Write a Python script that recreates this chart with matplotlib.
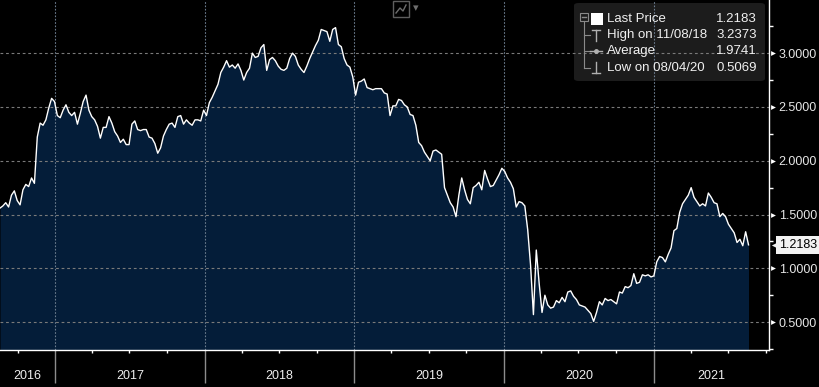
import numpy as np
import pandas as pd
import matplotlib
matplotlib.use('Agg')
import matplotlib.pyplot as plt
import matplotlib.dates as mdates
import matplotlib.transforms as mtransforms
from matplotlib.patches import FancyBboxPatch, Rectangle
from matplotlib.lines import Line2D
from matplotlib.ticker import MultipleLocator

plt.rcParams['font.family'] = ['Liberation Sans', 'DejaVu Sans']

# weekly closes
start_date = '2016-08-19'
prices = [
    1.56, 1.58, 1.61, 1.57, 1.68, 1.72, 1.63, 1.59, 1.73, 1.78, 1.76, 1.84, 1.79, 2.22, 2.35, 2.33,
    2.38, 2.49, 2.58, 2.55, 2.42, 2.40, 2.47, 2.52, 2.45, 2.42, 2.45, 2.34, 2.44, 2.55, 2.61, 2.47,
    2.41, 2.38, 2.32, 2.21, 2.31, 2.31, 2.41, 2.35, 2.27, 2.23, 2.17, 2.20, 2.15, 2.15, 2.34, 2.37,
    2.29, 2.28, 2.29, 2.29, 2.22, 2.21, 2.16, 2.07, 2.12, 2.23, 2.29, 2.34, 2.35, 2.31, 2.41, 2.42,
    2.34, 2.38, 2.35, 2.33, 2.38, 2.38, 2.37, 2.47, 2.42, 2.54, 2.59, 2.65, 2.71, 2.82, 2.87, 2.93,
    2.87, 2.89, 2.86, 2.90, 2.84, 2.75, 2.82, 2.86, 3.00, 2.96, 2.97, 3.05, 3.08, 2.84, 2.94, 2.96,
    2.93, 2.88, 2.85, 2.84, 2.86, 2.95, 3.00, 2.97, 2.89, 2.85, 2.82, 2.88, 2.95, 3.01, 3.07, 3.12,
    3.22, 3.21, 3.20, 3.11, 3.22, 3.2373, 3.08, 3.06, 2.95, 2.89, 2.87, 2.78, 2.61, 2.73, 2.74, 2.76,
    2.68, 2.67, 2.66, 2.67, 2.67, 2.67, 2.63, 2.62, 2.42, 2.51, 2.51, 2.57, 2.56, 2.52, 2.50, 2.43,
    2.42, 2.33, 2.17, 2.14, 2.08, 2.04, 2.00, 2.09, 2.10, 2.08, 2.06, 1.75, 1.68, 1.61, 1.57, 1.48,
    1.68, 1.84, 1.73, 1.64, 1.60, 1.75, 1.77, 1.80, 1.73, 1.91, 1.83, 1.76, 1.77, 1.82, 1.87, 1.93,
    1.90, 1.84, 1.80, 1.74, 1.57, 1.62, 1.61, 1.58, 1.36, 1.03, 0.57, 1.17, 0.86, 0.59, 0.75, 0.66,
    0.63, 0.64, 0.70, 0.68, 0.73, 0.69, 0.78, 0.79, 0.74, 0.71, 0.66, 0.65, 0.64, 0.61, 0.58, 0.5069,
    0.59, 0.69, 0.66, 0.72, 0.70, 0.71, 0.69, 0.67, 0.78, 0.77, 0.83, 0.82, 0.84, 0.95, 0.86, 0.87,
    0.94, 0.93, 0.94, 0.92, 0.93, 1.06, 1.11, 1.10, 1.06, 1.13, 1.19, 1.35, 1.37, 1.52, 1.60, 1.64,
    1.68, 1.75, 1.66, 1.62, 1.58, 1.60, 1.58, 1.70, 1.66, 1.61, 1.60, 1.48, 1.51, 1.48, 1.41, 1.37,
    1.33, 1.24, 1.27, 1.21, 1.34, 1.2183,
]
dates = pd.date_range(start_date, periods=len(prices), freq='7D')

last_price = 1.2183
high_label, high_value = 'High on 11/08/18', 3.2373
avg_label, avg_value = 'Average', 1.9741
low_label, low_value = 'Low on 08/04/20', 0.5069
ytick_values = [0.5, 1.0, 1.5, 2.0, 2.5, 3.0]
year_labels = ['2016', '2017', '2018', '2019', '2020', '2021']

W, H = 820, 387
fig = plt.figure(figsize=(W / 100, H / 100), dpi=100, facecolor='black')
ax = fig.add_axes([0, 1 - 350 / H, 769 / W, 350 / H])
ax.set_facecolor('black')

def fx(px):
    return px / W

def fy(py):
    return 1 - py / H

x0, x1 = pd.Timestamp('2016-08-19'), pd.Timestamp('2021-10-09')
ax.set_xlim(x0, x1)
ax.set_ylim(0.241, 3.494)

# area + line
ax.fill_between(dates, prices, 0, color='#041d39', lw=0, zorder=1)
ax.plot(dates, prices, color='white', lw=1.0, zorder=3)

# grid
for v in ytick_values:
    ax.axhline(v, color='#7a7a7a', lw=0.8, ls=(0, (2.5, 2.5)), zorder=2)
for y in year_labels[1:]:
    ax.axvline(pd.Timestamp(f'{y}-01-01'), color='#6c7c8e', lw=0.8, ls=(0, (1.5, 1.5)), zorder=2)

for s in ['left', 'top']:
    ax.spines[s].set_visible(False)
for s in ['right', 'bottom']:
    ax.spines[s].set_color('white')
    ax.spines[s].set_linewidth(1)

# x axis: year separators + quarter ticks
ax.xaxis.set_major_locator(mdates.YearLocator())
ax.xaxis.set_minor_locator(mdates.MonthLocator(bymonth=[1, 4, 7, 10]))
ax.tick_params(axis='x', which='major', length=24, width=1, color='#8c8c8c', labelbottom=False)
ax.tick_params(axis='x', which='minor', length=2.5, width=1, color='white')

tx = mtransforms.blended_transform_factory(ax.transData, ax.transAxes)
xl0, xl1 = mdates.date2num(x0), mdates.date2num(x1)
for lab in year_labels:
    a = max(mdates.date2num(pd.Timestamp(f'{lab}-01-01')), xl0)
    b = min(mdates.date2num(pd.Timestamp(f'{int(lab) + 1}-01-01')), xl1)
    ax.text((a + b) / 2, -26 / 350, lab, transform=tx, ha='center', va='center',
            fontsize=9, color='#eeeeee')

# y axis on the right
ax.yaxis.tick_right()
ax.set_yticks(ytick_values)
ax.set_yticklabels([f'{v:.4f}' for v in ytick_values])
ax.yaxis.set_minor_locator(MultipleLocator(0.25))
ax.tick_params(axis='y', which='major', length=0, pad=7, labelsize=9, labelcolor='#e6e6e6')
ax.tick_params(axis='y', which='minor', length=3, width=1, color='white')

ty = mtransforms.blended_transform_factory(ax.transAxes, ax.transData)
ax.scatter(np.full(len(ytick_values), 773 / 769), ytick_values, marker='>', s=12,
           color='white', transform=ty, clip_on=False, zorder=5, linewidths=0)

# last price tag
ax.scatter([776 / 769], [last_price], marker='<', s=45, color='#f2f2f2', transform=ty,
           clip_on=False, zorder=6, linewidths=0)
ax.text(779 / 769, last_price, f'{last_price:.4f}', transform=ty, ha='left', va='center',
        fontsize=9, color='black', zorder=7, clip_on=False,
        bbox=dict(boxstyle='square,pad=0.25', fc='#f2f2f2', ec='none'))

# legend box
ax.add_patch(FancyBboxPatch((fx(574), fy(81)), fx(765) - fx(574), fy(3) - fy(81),
                            boxstyle='round,pad=0,rounding_size=0.006', transform=fig.transFigure,
                            fc='#1c1c1c', ec='none', zorder=1.5, clip_on=False))
rows = [('Last Price', last_price, 19), (high_label, high_value, 35),
        (avg_label, avg_value, 51), (low_label, low_value, 68)]
for lab, val, py in rows:
    fig.text(fx(607), fy(py), lab, ha='left', va='center', fontsize=9.5, color='#f0f0f0', zorder=10)
    fig.text(fx(757), fy(py), f'{val:.4f}', ha='right', va='center', fontsize=9.5, color='#f0f0f0', zorder=10)

gray = '#8a8a8a'
def seg(xs, ys, c=gray, lw=1):
    fig.add_artist(Line2D([fx(v) for v in xs], [fy(v) for v in ys], color=c, lw=lw,
                          transform=fig.transFigure, zorder=10))

fig.add_artist(Rectangle((fx(580), fy(21)), fx(588) - fx(580), fy(13) - fy(21), fill=False,
                         ec=gray, lw=0.8, transform=fig.transFigure, zorder=10))
seg([582, 586], [17, 17])
fig.add_artist(Rectangle((fx(591), fy(25)), fx(603) - fx(591), fy(13) - fy(25), fc='white',
                         ec='none', transform=fig.transFigure, zorder=10))
seg([584, 584], [21, 68], lw=0.8)
for py in [35, 51, 68]:
    seg([584, 590], [py, py], lw=0.8)
seg([592, 600], [30, 30], c='#b0b0b0')
seg([596, 596], [30, 41], c='#b0b0b0')
seg([590, 602], [51, 51], c='#b0b0b0')
fig.add_artist(Line2D([fx(596)], [fy(51)], marker='o', ms=2.5, color='#b0b0b0',
                      transform=fig.transFigure, zorder=10))
seg([596, 596], [62, 73], c='#b0b0b0')
seg([592, 600], [73, 73], c='#b0b0b0')

# small chart-type icon at top
fig.add_artist(Rectangle((fx(393), fy(17)), fx(409) - fx(393), fy(1) - fy(17), fill=False,
                         ec='#5e5e5e', lw=1, transform=fig.transFigure, zorder=10))
seg([396, 400, 403, 406], [13, 8, 11, 5], c='#6e6e6e')
fig.text(fx(416), fy(8), '\u25be', ha='center', va='center', fontsize=8, color='#6e6e6e',
         family=['DejaVu Sans'])

fig.savefig('out.png', dpi=100, facecolor='black')
